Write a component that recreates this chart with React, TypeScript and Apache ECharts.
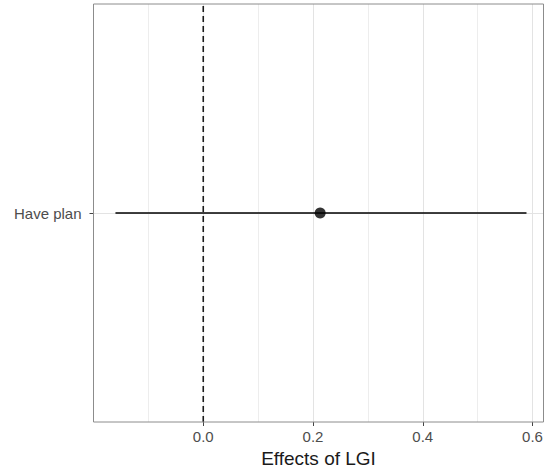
import React, { useEffect, useRef } from "react";
import * as echarts from "echarts";

const categories = ["Have plan"];
const estimates = [0.213];
const lowerCI = [-0.16];
const upperCI = [0.589];
const xTickLabels = [0, 0.2, 0.4, 0.6];
const xMin = -0.2;
const xMax = 0.62;

const W = 551;
const H = 476;
const G = { left: 93.5, right: 7.5, top: 4, bottom: 54 };

export default function App() {
  const ref = useRef<HTMLDivElement>(null);
  useEffect(() => {
    if (!ref.current) return;
    const chart = echarts.init(ref.current, undefined, { renderer: "svg" });
    const yPos = categories.map((_, i) => i + 1);
    const series: any[] = [];
    categories.forEach((c, i) => {
      series.push({
        type: "line",
        data: [
          [lowerCI[i], yPos[i]],
          [upperCI[i], yPos[i]],
        ],
        symbol: "none",
        lineStyle: { color: "#000", width: 1.6 },
        silent: true,
        z: 3,
      });
    });
    series.push({
      type: "line",
      data: [
        [0, 0],
        [0, categories.length + 1],
      ],
      symbol: "none",
      lineStyle: { color: "#1a1a1a", width: 1.6, type: [6, 4] },
      silent: true,
      z: 4,
    });
    series.push({
      type: "scatter",
      data: estimates.map((v, i) => [v, yPos[i]]),
      symbolSize: 11,
      itemStyle: { color: "#000" },
      z: 5,
    });
    const font = "Liberation Sans, Arial, sans-serif";
    chart.setOption({
      animation: false,
      grid: { ...G, show: false },
      graphic: [
        {
          type: "rect",
          z: 100,
          silent: true,
          shape: { x: G.left, y: G.top, width: W - G.left - G.right, height: H - G.top - G.bottom },
          style: { fill: "none", stroke: "#8c8c8c", lineWidth: 1 },
        },
      ],
      xAxis: [
        {
          type: "value",
          min: xMin,
          max: xMax,
          interval: 0.1,
          axisLine: { show: false },
          axisTick: { show: false },
          axisLabel: { show: false },
          splitLine: { show: true, lineStyle: { color: "#ededed", width: 1 } },
        },
        {
          type: "value",
          position: "bottom",
          min: xMin,
          max: xMax,
          name: "Effects of LGI",
          nameLocation: "middle",
          nameGap: 26,
          nameTextStyle: { fontSize: 19, color: "#1a1a1a", fontFamily: font, verticalAlign: "top" },
          axisLine: { show: false, onZero: false },
          axisTick: { show: true, length: 4, lineStyle: { color: "#444" }, customValues: xTickLabels },
          axisLabel: {
            customValues: xTickLabels,
            margin: 7,
            fontSize: 15,
            color: "#4d4d4d",
            fontFamily: font,
            formatter: (v: number) => v.toFixed(1),
          },
          splitLine: { show: true, lineStyle: { color: "#e3e3e3", width: 1 } },
        },
      ],
      yAxis: {
        type: "value",
        min: 0,
        max: categories.length + 1,
        interval: 1,
        axisLine: { show: false, onZero: false },
        axisTick: { show: true, length: 4, lineStyle: { color: "#444" }, customValues: yPos },
        axisLabel: {
          customValues: yPos,
          margin: 12,
          fontSize: 15,
          color: "#4d4d4d",
          fontFamily: font,
          formatter: (v: number) => categories[Math.round(v) - 1] ?? "",
        },
        splitLine: { show: true, lineStyle: { color: "#e3e3e3", width: 1 } },
      },
      series,
    });
    return () => chart.dispose();
  }, []);
  return <div ref={ref} style={{ width: W, height: H, position: "absolute", left: 0, top: 0, background: "#fff" }} />;
}
